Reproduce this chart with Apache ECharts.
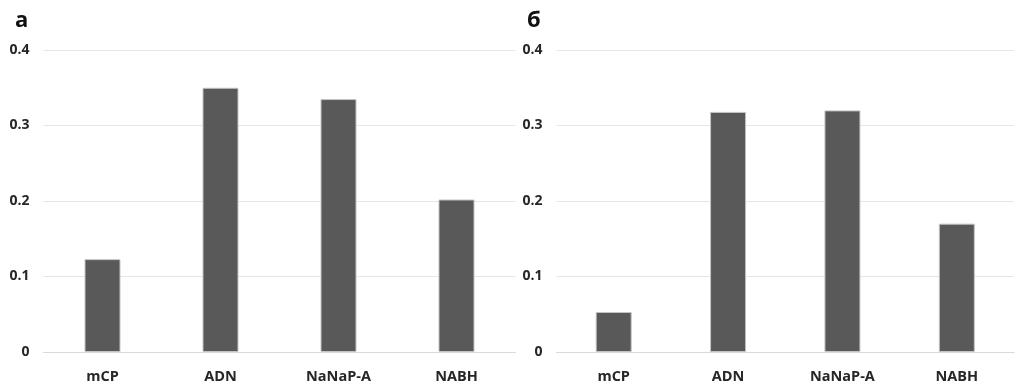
<!DOCTYPE html>
<html>
<head>
<meta charset="utf-8">
<script src="https://cdn.jsdelivr.net/npm/echarts@6/dist/echarts.min.js"></script>
<style>
html,body{margin:0;padding:0;background:#fff;}
#c{width:1019px;height:385px;}
</style>
</head>
<body>
<div id="c"></div>
<script>
const categories = ['mCP', 'ADN', 'NaNaP-A', 'NABH'];
const valuesA = [0.123, 0.350, 0.335, 0.202];
const valuesB = [0.053, 0.318, 0.320, 0.170];
const panelTitles = ['а', 'б'];
const yTicks = [0, 0.1, 0.2, 0.3, 0.4];

const font = '"Open Sans", "Liberation Sans", sans-serif';
const labelStyle = {color: '#262626', fontFamily: font, fontWeight: 'bold'};

function fmt(v){ return v === 0 ? '0' : String(Math.round(v*10)/10); }

const chart = echarts.init(document.getElementById('c'), null, {renderer: 'canvas'});
const grids = [
  {left: 43.5, top: 50, width: 472, height: 302},
  {left: 556.5, top: 50, width: 457.5, height: 302}
];
const option = {
  animation: false,
  backgroundColor: '#fff',
  title: [
    {text: panelTitles[0], left: 10, top: 5, textStyle: {fontFamily: font, fontSize: 22, fontWeight: 'bold', color: '#111'}},
    {text: panelTitles[1], left: 522, top: 5, textStyle: {fontFamily: font, fontSize: 22, fontWeight: 'bold', color: '#111'}}
  ],
  grid: grids,
  xAxis: [0, 1].map(i => ({
    type: 'category', gridIndex: i, data: categories,
    axisLine: {show: true, lineStyle: {color: '#d9d9d9', width: 1}},
    axisTick: {show: false},
    axisLabel: Object.assign({margin: 17, fontSize: 14.5}, labelStyle)
  })),
  yAxis: [0, 1].map(i => ({
    type: 'value', gridIndex: i, min: 0, max: 0.4, interval: 0.1,
    axisLine: {show: false}, axisTick: {show: false},
    splitLine: {lineStyle: {color: '#e6e6e6', width: 1}},
    axisLabel: Object.assign({margin: 14, fontSize: 14, formatter: fmt}, labelStyle)
  })),
  series: [valuesA, valuesB].map((d, i) => ({
    type: 'bar', xAxisIndex: i, yAxisIndex: i, data: d, barWidth: 36,
    itemStyle: {color: '#595959', borderColor: '#c4c4c4', borderWidth: 1}
  }))
};
chart.setOption(option);
</script>
</body>
</html>
